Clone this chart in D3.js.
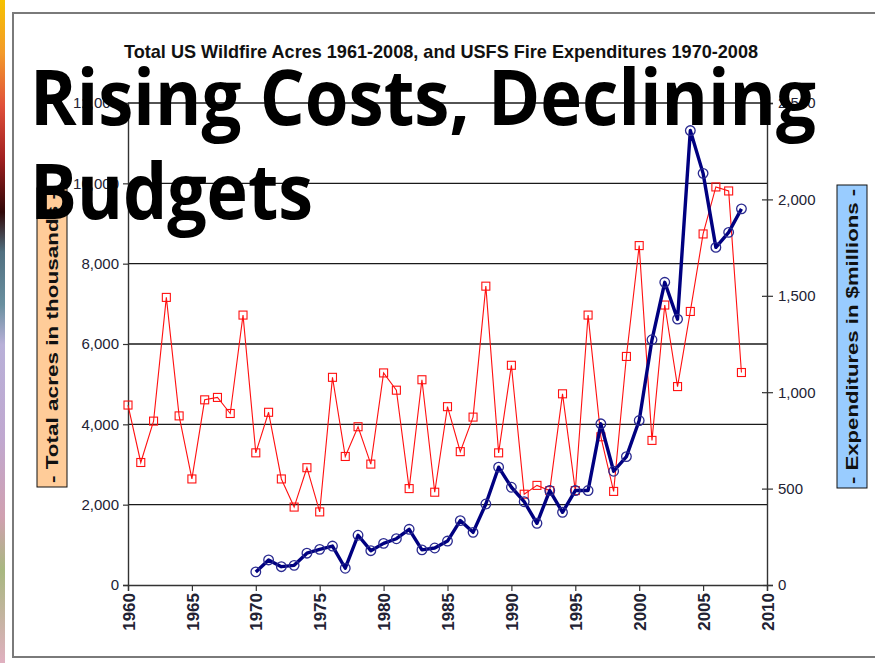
<!DOCTYPE html>
<html>
<head>
<meta charset="utf-8">
<script src="https://cdn.jsdelivr.net/npm/d3@7"></script>
<style>
  body { margin: 0; background: #fff; }
  svg { display: block; }
  .tick text { font-family: "Liberation Sans", Arial, sans-serif; fill: #222233; }
</style>
</head>
<body>
<div id="chart"></div>
<script>
// years and values
var acreYears = d3.range(1960, 2009);
var acres = [4480, 3050, 4080, 7160, 4210, 2640, 4610, 4670, 4270, 6720,
             3290, 4300, 2640, 1940, 2920, 1820, 5170, 3200, 3940, 3010,
             5280, 4850, 2400, 5110, 2310, 4440, 3320, 4180, 7440, 3290,
             5470, 2260, 2480, 2350, 4760, 2350, 6720, 3690, 2330, 5690,
             8450, 3600, 6970, 4940, 6810, 8740, 9910, 9810, 5290];

var spendYears = d3.range(1970, 2009);
var spend = [68, 130, 95, 102, 165, 185, 202, 87, 258, 178,
             216, 240, 289, 182, 192, 228, 334, 273, 420, 611,
             507, 432, 320, 490, 377, 490, 490, 836, 590, 666,
             853, 1272, 1570, 1379, 2357, 2135, 1751, 1829, 1951];

var xTicks = d3.range(1960, 2011, 5);
var leftTicks = d3.range(0, 12001, 2000);
var rightTicks = d3.range(0, 2501, 500);

var chartTitle = "Total US Wildfire Acres 1961-2008, and USFS Fire Expenditures 1970-2008";
var leftLabel = "- Total acres in thousands -";
var rightLabel = "- Expenditures in $millions -";
var slideTitle = ["Rising Costs, Declining", "Budgets"];

var W = 875, H = 663;
var x0 = 128, x1 = 767, yBottom = 585, yTop = 103;

var svg = d3.select('#chart').append('svg')
    .attr('width', W)
    .attr('height', H);

// slide background strip on the left
var grad = svg.append('defs').append('linearGradient')
    .attr('id', 'strip').attr('x1', 0).attr('y1', 0).attr('x2', 0).attr('y2', 1);
[[0, '#f6c200'], [0.08, '#f39a2a'], [0.16, '#e0503a'], [0.24, '#a02020'],
 [0.32, '#300808'], [0.38, '#507080'], [0.46, '#6a90a0'], [0.52, '#b8b0d8'],
 [0.66, '#c0a8d0'], [0.78, '#d0a0b0'], [0.86, '#a8b880'], [1, '#e0b0c0']]
  .forEach(function(s) {
    grad.append('stop').attr('offset', s[0]).attr('stop-color', s[1]);
  });
svg.append('rect').attr('x', 0).attr('y', 0).attr('width', 5).attr('height', H)
    .style('fill', 'url(#strip)');

// picture frame
svg.append('rect')
    .attr('x', 13).attr('y', 13)
    .attr('width', W).attr('height', 644)
    .style('fill', '#fff')
    .style('stroke', '#7a7a7a')
    .style('stroke-width', 2);

var xScale = d3.scaleLinear().domain([1960, 2010]).range([x0, x1]);
var yLeft = d3.scaleLinear().domain([0, 12000]).range([yBottom, yTop]);
var yRight = d3.scaleLinear().domain([0, 2500]).range([yBottom, yTop]);

// Title
svg.append('text')
    .attr('x', 441).attr('y', 58)
    .attr('text-anchor', 'middle')
    .attr('textLength', 634)
    .attr('lengthAdjust', 'spacingAndGlyphs')
    .style('font-family', '"Liberation Sans Narrow", "Liberation Sans", Arial, sans-serif')
    .style('font-size', '19px')
    .style('font-weight', 'bold')
    .style('fill', '#111')
    .text(chartTitle);

// gridlines
svg.append('g').selectAll('line')
    .data(leftTicks.filter(d => d > 0))
    .join('line')
    .attr('x1', x0).attr('x2', x1)
    .attr('y1', d => yLeft(d)).attr('y2', d => yLeft(d))
    .style('stroke', '#1a1a1a')
    .style('stroke-width', 1.4);

// Axes
var fmt = d3.format(',');
var gL = svg.append('g').attr('transform', 'translate(' + x0 + ',0)')
    .call(d3.axisLeft(yLeft).tickValues(leftTicks).tickFormat(fmt).tickSize(5).tickPadding(4));
var gR = svg.append('g').attr('transform', 'translate(' + x1 + ',0)')
    .call(d3.axisRight(yRight).tickValues(rightTicks).tickFormat(fmt).tickSize(6).tickPadding(5));
var gX = svg.append('g').attr('transform', 'translate(0,' + yBottom + ')')
    .call(d3.axisBottom(xScale).tickValues(xTicks).tickFormat(d3.format('d')).tickSize(6));

[gL, gR, gX].forEach(function(g) {
    g.select('.domain').style('stroke', '#333').style('stroke-width', 1.4);
    g.selectAll('.tick line').style('stroke', '#333').style('stroke-width', 1.2);
    g.selectAll('.tick text').style('font-size', '15px');
});
gR.selectAll('.tick line').attr('x1', -5);
gX.selectAll('.tick text')
    .attr('transform', 'rotate(-90)')
    .attr('text-anchor', 'end')
    .attr('x', -8).attr('y', 0).attr('dy', '0.36em')
    .style('font-size', '17px')
    .style('font-weight', 'bold');

// axis title boxes
function axisBox(cx, top, bottom, fill, label) {
    svg.append('rect')
        .attr('x', cx - 15).attr('y', top)
        .attr('width', 30).attr('height', bottom - top)
        .style('fill', fill).style('stroke', '#111').style('stroke-width', 1);
    svg.append('text')
        .attr('transform', 'translate(' + (cx + 6) + ',' + ((top + bottom) / 2) + ') rotate(-90)')
        .attr('text-anchor', 'middle')
        .attr('textLength', bottom - top - 8)
        .attr('lengthAdjust', 'spacingAndGlyphs')
        .style('font-family', '"Liberation Sans", Arial, sans-serif')
        .style('font-size', '17px')
        .style('font-weight', 'bold')
        .style('fill', '#111')
        .text(label);
}
axisBox(52, 188, 487, '#ffcc99', leftLabel);
axisBox(852, 185, 488, '#99ccff', rightLabel);

// acres series
var acreData = acreYears.map((y, i) => ({year: y, v: acres[i]}));
var lineAcres = d3.line().x(d => xScale(d.year)).y(d => yLeft(d.v));
svg.append('path')
    .datum(acreData)
    .attr('d', lineAcres)
    .style('fill', 'none')
    .style('stroke', '#ff1010')
    .style('stroke-width', 1.1);
svg.append('g').selectAll('rect')
    .data(acreData)
    .join('rect')
    .attr('x', d => xScale(d.year) - 4)
    .attr('y', d => yLeft(d.v) - 4)
    .attr('width', 8).attr('height', 8)
    .style('fill', 'none')
    .style('stroke', '#ff1010')
    .style('stroke-width', 1.1);

// expenditure series
var spendData = spendYears.map((y, i) => ({year: y, v: spend[i]}));
var lineSpend = d3.line().x(d => xScale(d.year)).y(d => yRight(d.v));
svg.append('path')
    .datum(spendData)
    .attr('d', lineSpend)
    .style('fill', 'none')
    .style('stroke', '#000080')
    .style('stroke-width', 3.4)
    .style('stroke-linejoin', 'round');
svg.append('g').selectAll('circle')
    .data(spendData)
    .join('circle')
    .attr('cx', d => xScale(d.year))
    .attr('cy', d => yRight(d.v))
    .attr('r', 4.8)
    .style('fill', 'none')
    .style('stroke', '#2a2a90')
    .style('stroke-width', 1.3);

// slide headline over the chart
svg.append('g').selectAll('text')
    .data(slideTitle)
    .join('text')
    .attr('x', 30)
    .attr('y', (d, i) => 125 + i * 94)
    .attr('textLength', (d, i) => i == 0 ? 786 : 283)
    .attr('lengthAdjust', 'spacingAndGlyphs')
    .style('font-family', '"Open Sans", "Noto Sans", sans-serif')
    .style('font-size', '77px')
    .style('font-weight', 'bold')
    .style('fill', '#000')
    .text(d => d);
</script>
</body>
</html>
